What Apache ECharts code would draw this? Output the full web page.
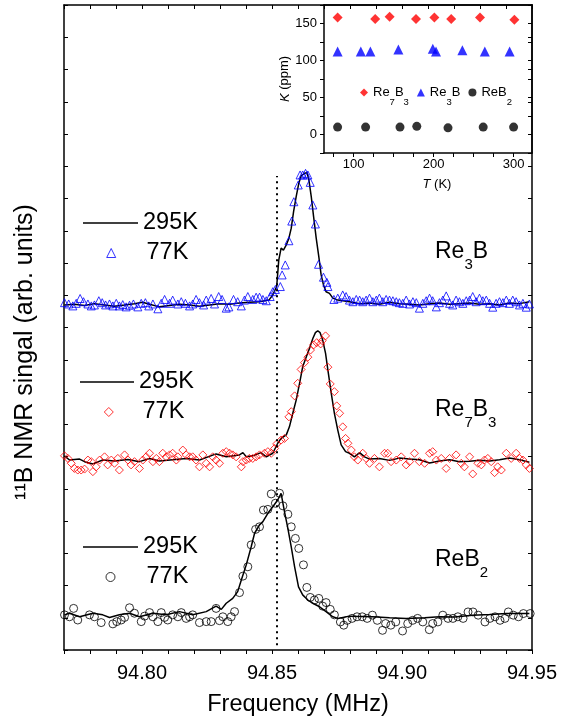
<!DOCTYPE html>
<html>
<head>
<meta charset="utf-8">
<script src="https://cdn.jsdelivr.net/npm/echarts@6.0.0/dist/echarts.min.js"></script>
<style>
  html, body { margin: 0; padding: 0; background: #fff; }
  #main { width: 567px; height: 724px; }
</style>
</head>
<body>
<div id="main"></div>
<script>
// NMR spectra, values in axis units (signal offset per compound), frequency in MHz
var re3b77K = [
  [94.7702,10.77],[94.7718,10.73],[94.7734,10.67],[94.7747,10.75],[94.7762,10.90],[94.7775,10.80],[94.7792,10.73],[94.7805,10.67],
  [94.7817,10.70],[94.7834,10.83],[94.7847,10.77],[94.7860,10.70],[94.7875,10.73],[94.7888,10.67],[94.7901,10.75],[94.7913,10.67],
  [94.7926,10.71],[94.7939,10.64],[94.7952,10.69],[94.7967,10.73],[94.7984,10.64],[94.7997,10.75],[94.8013,10.77],[94.8026,10.67],
  [94.8042,10.73],[94.8061,10.58],[94.8074,10.75],[94.8087,10.87],[94.8106,10.75],[94.8118,10.85],[94.8138,10.73],[94.8151,10.80],
  [94.8167,10.75],[94.8183,10.67],[94.8195,10.73],[94.8208,10.87],[94.8221,10.77],[94.8237,10.70],[94.8247,10.85],[94.8266,10.90],
  [94.8279,10.73],[94.8295,10.96],[94.8308,10.87],[94.8324,10.60],[94.8334,10.64],[94.8352,10.87],[94.8368,10.80],[94.8382,10.67],
  [94.8394,10.85],[94.8407,10.96],[94.8426,10.87],[94.8439,10.94],[94.8452,10.94],[94.8465,10.87],[94.8478,10.83],[94.8493,10.96],
  [94.8503,11.11],[94.8513,11.18],[94.8532,11.27],[94.8539,11.63],[94.8551,11.94],[94.8565,12.69],[94.8576,13.30],[94.8584,13.90],
  [94.8601,14.42],[94.8608,14.73],[94.8618,14.73],[94.8629,14.78],[94.8638,14.73],[94.8647,14.50],[94.8657,13.80],[94.8667,13.21],
  [94.8679,11.96],[94.8698,11.56],[94.8711,11.40],[94.8715,11.27],[94.8738,10.87],
  [94.8753,10.91],[94.8772,11.01],[94.8785,10.96],[94.8798,10.85],[94.8811,10.80],[94.8824,10.87],[94.8837,10.85],[94.8849,10.80],
  [94.8862,10.85],[94.8875,10.91],[94.8888,10.80],[94.8901,10.85],[94.8913,10.91],[94.8926,10.80],[94.8939,10.87],[94.8952,10.85],
  [94.8965,10.83],[94.8978,10.80],[94.8990,10.77],[94.9003,10.75],[94.9016,10.85],[94.9029,10.73],[94.9042,10.80],[94.9055,10.77],
  [94.9067,10.60],[94.9080,10.75],[94.9093,10.83],[94.9106,10.91],[94.9118,10.83],[94.9132,10.64],[94.9144,10.77],[94.9157,10.85],
  [94.9170,10.98],[94.9183,10.75],[94.9195,10.70],[94.9208,10.85],[94.9221,10.80],[94.9234,10.75],[94.9247,10.83],[94.9260,10.85],
  [94.9272,10.96],[94.9285,10.80],[94.9298,10.91],[94.9311,10.83],[94.9324,10.85],[94.9337,10.75],[94.9349,10.63],[94.9362,10.75],
  [94.9375,10.80],[94.9388,10.77],[94.9401,10.85],[94.9413,10.75],[94.9426,10.85],[94.9439,10.80],[94.9452,10.70],[94.9465,10.75],
  [94.9478,10.63],[94.9490,10.73]
];
var re3b295K = [
  [94.7702,10.70],[94.7740,10.72],[94.7779,10.68],[94.7817,10.74],[94.7856,10.70],[94.7894,10.66],[94.7933,10.70],[94.7971,10.74],
  [94.8002,10.78],[94.8029,10.72],[94.8067,10.64],[94.8106,10.68],[94.8144,10.72],[94.8183,10.70],[94.8221,10.66],[94.8260,10.70],
  [94.8298,10.74],[94.8337,10.72],[94.8375,10.76],[94.8413,10.78],[94.8452,10.80],[94.8488,10.85],[94.8503,11.01],[94.8518,11.27],
  [94.8526,12.09],[94.8535,12.46],[94.8544,12.40],[94.8555,12.56],[94.8565,12.77],[94.8574,13.08],[94.8583,13.59],[94.8593,14.06],
  [94.8603,14.47],[94.8612,14.70],[94.8625,14.78],[94.8635,14.80],[94.8642,14.57],[94.8651,14.06],[94.8660,13.44],[94.8670,12.77],
  [94.8680,12.20],[94.8689,11.63],[94.8698,11.32],[94.8708,11.11],[94.8721,11.06],[94.8734,10.91],[94.8753,10.85],[94.8798,10.80],
  [94.8837,10.74],[94.8875,10.76],[94.8913,10.72],[94.8952,10.78],[94.8990,10.74],[94.9029,10.72],[94.9067,10.70],[94.9106,10.74],
  [94.9144,10.76],[94.9183,10.72],[94.9221,10.74],[94.9260,10.76],[94.9298,10.72],[94.9337,10.74],[94.9375,10.70],[94.9413,10.76],
  [94.9452,10.74],[94.9490,10.80]
];
var re7b3_77K = [
  [94.7702,6.02],[94.7715,5.94],[94.7728,5.79],[94.7740,5.63],[94.7753,5.58],[94.7766,5.58],[94.7779,5.61],[94.7792,5.89],
  [94.7805,5.84],[94.7811,5.53],[94.7824,5.68],[94.7837,5.89],[94.7856,5.99],[94.7868,5.74],[94.7882,5.89],[94.7894,5.79],
  [94.7907,5.94],[94.7913,5.58],[94.7933,6.05],[94.7946,5.89],[94.7958,5.74],[94.7971,5.84],[94.7990,5.63],[94.8003,5.89],
  [94.8016,5.99],[94.8029,6.10],[94.8042,5.84],[94.8055,5.94],[94.8067,5.84],[94.8080,6.10],[94.8093,5.99],[94.8106,6.05],
  [94.8118,6.10],[94.8132,5.89],[94.8138,5.99],[94.8157,6.20],[94.8170,6.05],[94.8183,5.99],[94.8195,5.99],[94.8208,5.89],
  [94.8221,5.68],[94.8234,6.05],[94.8247,5.79],[94.8260,5.68],[94.8272,5.99],[94.8285,5.89],[94.8298,5.79],[94.8311,6.10],
  [94.8324,6.15],[94.8337,6.10],[94.8349,6.05],[94.8362,5.99],[94.8382,5.68],[94.8388,5.84],[94.8401,5.89],[94.8413,5.94],
  [94.8426,5.94],[94.8439,5.99],[94.8452,6.05],[94.8471,6.10],[94.8484,6.15],[94.8497,6.10],[94.8510,6.25],[94.8518,6.39],
  [94.8535,6.51],[94.8548,6.56],[94.8565,7.23],[94.8574,7.39],[94.8587,7.88],[94.8599,8.27],[94.8612,8.70],[94.8625,8.91],
  [94.8638,9.08],[94.8648,9.30],[94.8660,9.46],[94.8672,9.53],[94.8687,9.49],[94.8693,9.59],[94.8706,9.74],[94.8715,8.77],
  [94.8724,8.25],[94.8740,8.01],[94.8749,7.57],[94.8760,7.34],[94.8772,6.92],[94.8783,6.56],[94.8792,6.41],[94.8805,6.20],
  [94.8817,5.99],[94.8830,5.89],[94.8849,6.10],[94.8862,5.94],[94.8875,5.79],[94.8894,5.94],[94.8913,5.68],[94.8933,6.10],
  [94.8945,6.10],[94.8958,5.84],[94.8978,5.89],[94.8997,5.99],[94.9016,5.74],[94.9029,5.84],[94.9048,6.10],[94.9067,5.84],
  [94.9087,5.79],[94.9106,6.10],[94.9118,6.15],[94.9132,5.89],[94.9151,5.94],[94.9170,5.63],[94.9183,5.94],[94.9208,6.05],
  [94.9228,5.79],[94.9240,5.68],[94.9260,5.99],[94.9272,5.46],[94.9292,5.79],[94.9305,5.74],[94.9317,5.89],[94.9330,5.94],
  [94.9343,5.84],[94.9356,5.50],[94.9368,5.68],[94.9382,5.58],[94.9401,6.10],[94.9420,5.94],[94.9439,6.10],[94.9452,5.94],
  [94.9465,5.89],[94.9478,5.74],[94.9490,5.63]
];
var re7b3_295K = [
  [94.7702,6.02],[94.7721,5.89],[94.7760,5.92],[94.7779,5.84],[94.7811,5.77],[94.7849,5.89],[94.7894,5.86],[94.7946,5.91],
  [94.7990,5.84],[94.8029,5.94],[94.8067,5.86],[94.8118,5.90],[94.8170,5.94],[94.8221,5.89],[94.8285,6.08],[94.8324,5.99],
  [94.8375,6.05],[94.8388,6.12],[94.8401,5.99],[94.8426,6.02],[94.8458,6.12],[94.8478,5.99],[94.8503,6.10],[94.8522,6.41],
  [94.8535,6.56],[94.8555,6.67],[94.8567,6.92],[94.8580,7.34],[94.8593,7.75],[94.8606,8.27],[94.8618,8.78],[94.8632,9.09],
  [94.8644,9.35],[94.8657,9.66],[94.8667,9.84],[94.8676,9.90],[94.8685,9.84],[94.8695,9.61],[94.8706,9.20],[94.8715,8.68],
  [94.8728,7.96],[94.8740,7.34],[94.8753,6.82],[94.8766,6.36],[94.8783,6.15],[94.8798,6.10],[94.8817,5.99],[94.8837,6.12],
  [94.8856,5.99],[94.8875,5.92],[94.8913,5.94],[94.8952,5.88],[94.8990,5.95],[94.9029,5.92],[94.9067,5.90],[94.9106,5.80],
  [94.9144,5.86],[94.9183,5.90],[94.9221,5.84],[94.9260,5.85],[94.9298,5.88],[94.9337,5.86],[94.9375,5.90],[94.9413,5.95],
  [94.9452,5.90],[94.9490,5.82]
];
var reb2_77K = [
  [94.7702,1.09],[94.7721,1.03],[94.7737,1.29],[94.7753,0.93],[94.7798,1.09],[94.7817,1.03],[94.7843,0.85],[94.7888,0.81],
  [94.7903,0.88],[94.7920,0.93],[94.7933,1.01],[94.7952,1.31],[94.7971,1.14],[94.7997,0.88],[94.8010,1.05],[94.8029,1.16],
  [94.8042,1.03],[94.8061,0.88],[94.8074,1.16],[94.8087,1.01],[94.8099,0.93],[94.8118,1.09],[94.8138,1.03],[94.8151,1.16],
  [94.8170,0.98],[94.8183,1.03],[94.8195,1.09],[94.8221,0.85],[94.8247,0.88],[94.8266,0.88],[94.8285,1.29],[94.8298,0.91],
  [94.8311,1.03],[94.8330,0.88],[94.8343,1.03],[94.8356,1.19],[94.8375,1.78],[94.8388,2.29],[94.8407,2.58],[94.8420,3.26],
  [94.8437,3.74],[94.8452,3.82],[94.8467,4.34],[94.8484,4.36],[94.8497,4.84],[94.8513,4.55],[94.8529,4.86],[94.8542,4.47],
  [94.8561,4.21],[94.8574,3.82],[94.8590,3.46],[94.8603,3.15],[94.8621,2.64],[94.8634,1.94],[94.8647,1.63],[94.8663,1.55],
  [94.8680,1.60],[94.8695,1.36],[94.8708,1.47],[94.8724,1.26],[94.8740,1.09],[94.8763,0.87],[94.8776,0.77],[94.8789,0.92],
  [94.8808,0.98],[94.8827,1.03],[94.8847,1.03],[94.8866,0.98],[94.8886,1.08],[94.8905,0.92],[94.8925,0.61],[94.8937,0.82],
  [94.8957,0.77],[94.8976,0.87],[94.9002,0.59],[94.9022,0.82],[94.9041,0.92],[94.9060,0.98],[94.9080,0.87],[94.9105,0.63],
  [94.9118,0.82],[94.9138,0.87],[94.9157,1.08],[94.9177,0.98],[94.9196,0.98],[94.9215,1.03],[94.9235,0.98],[94.9254,1.18],
  [94.9273,1.18],[94.9293,1.08],[94.9319,0.87],[94.9338,0.98],[94.9358,1.03],[94.9377,0.92],[94.9396,0.98],[94.9409,1.18],
  [94.9428,1.08],[94.9448,1.03],[94.9467,1.13],[94.9493,1.13]
];
var reb2_295K = [
  [94.7702,1.09],[94.7721,1.14],[94.7760,1.03],[94.7811,1.14],[94.7849,1.09],[94.7875,1.01],[94.7913,1.09],[94.7952,1.14],
  [94.7990,1.03],[94.8042,1.14],[94.8093,1.09],[94.8144,1.19],[94.8195,1.09],[94.8247,1.19],[94.8285,1.36],[94.8305,1.26],
  [94.8324,1.45],[94.8349,1.60],[94.8368,1.81],[94.8382,2.17],[94.8401,2.64],[94.8420,3.20],[94.8433,3.62],[94.8452,3.88],
  [94.8465,3.98],[94.8484,4.24],[94.8503,4.44],[94.8522,4.65],[94.8535,4.86],[94.8548,4.29],[94.8561,3.77],[94.8574,3.20],
  [94.8587,2.58],[94.8602,1.96],[94.8618,1.71],[94.8638,1.55],[94.8657,1.45],[94.8683,1.34],[94.8708,1.19],[94.8734,1.03],
  [94.8753,0.98],[94.8798,1.05],[94.8887,1.03],[94.8952,1.00],[94.9016,0.98],[94.9087,1.00],[94.9144,1.03],[94.9202,1.02],
  [94.9271,1.08],[94.9337,1.10],[94.9401,1.13],[94.9490,1.13]
];
var refFreq = 94.852;          // dotted reference line
var refSpan = [0.15, 14.7];

// inset: K (ppm) vs T (K)
var insetRe7B3 = [[80,158],[127,156],[145,159],[178,156],[201,158],[222,156],[258,158],[301,155]];
var insetRe3B  = [[80,112],[109,112],[121,112],[156,115],[199,116],[203,112],[236,114],[264,112],[295,112]];
var insetReB2  = [[80,10],[115,10],[158,10],[179,11],[218,9],[262,10],[300,10]];
var insetTTicks = [75, 100, 125, 150, 175, 200, 225, 250, 275, 300];
var insetTLabels = [100, 200, 300];

var FONT = '"Liberation Sans", Arial, Helvetica, sans-serif';
var chart = echarts.init(document.getElementById('main'));

var axisLineStyle = { color: '#000', width: 1.5 };
var tickStyle = { color: '#000', width: 1 };

function isMajor(v) {
  return Math.abs(v * 20 - Math.round(v * 20)) < 1e-6;
}

function specLine(name, data) {
  return {
    name: name, type: 'line', data: data, xAxisIndex: 0, yAxisIndex: 0,
    symbol: 'none', showSymbol: false,
    lineStyle: { color: '#000', width: 1.5 }, itemStyle: { color: '#000' },
    z: 2, silent: true
  };
}
function specMarks(name, data, symbol, color) {
  return {
    name: name, type: 'scatter', data: data, xAxisIndex: 0, yAxisIndex: 0,
    symbol: symbol, symbolSize: 8,
    itemStyle: { color: 'rgba(255,255,255,0)', borderColor: color, borderWidth: 1 },
    z: 3, silent: true
  };
}
function insetMarks(name, data, symbol, size, color) {
  return {
    name: name, type: 'scatter', data: data, xAxisIndex: 2, yAxisIndex: 2,
    symbol: symbol, symbolSize: size, itemStyle: { color: color }, silent: true
  };
}
var legendText = { fontSize: 23.5, lineHeight: 30, color: '#000', fontFamily: FONT };
function lineLegend(name, left, centerY, width) {
  return {
    data: [{ name: name, icon: 'rect' }], left: left, top: centerY - 15, padding: 0,
    itemWidth: width, itemHeight: 1.5, selectedMode: false,
    textStyle: legendText,
    formatter: function (n) { return n.split('|')[1]; }
  };
}
function markLegend(name, centerX, centerY, textX) {
  var left = centerX - 4.5;
  return {
    data: [name], left: left, top: centerY - 15, padding: 0,
    itemWidth: 9, itemHeight: 9, selectedMode: false,
    itemStyle: { borderWidth: 1 },
    textStyle: Object.assign({ padding: [0, 0, 0, textX - (left + 14)] }, legendText),
    formatter: function (n) { return n.split('|')[1]; }
  };
}

var subRich = { s: { fontSize: 15, fontFamily: FONT, fill: '#000', padding: [25, 0, 0, 0] } };
function compoundLabel(text, y) {
  return {
    type: 'text', x: 435, y: y, silent: true,
    style: { text: text, fontSize: 23, fontFamily: FONT, fill: '#000', verticalAlign: 'middle', rich: subRich }
  };
}

var insetNames = { 'Re7B3': 'Re{s|7}B{s|3}', 'Re3B': 'Re{s|3}B', 'ReB2': 'ReB{s|2}' };

var option = {
  animation: false,
  backgroundColor: '#fff',
  grid: [
    { left: 64, top: 5, width: 468, height: 645 },
    { left: 324, top: 5, width: 208, height: 148 }
  ],
  xAxis: [
    {
      gridIndex: 0, type: 'value', min: 94.77, max: 94.95, interval: 0.01, position: 'bottom',
      axisLine: { onZero: false, lineStyle: axisLineStyle },
      axisTick: { inside: false, length: 4, lineStyle: tickStyle },
      axisLabel: {
        margin: 13, fontSize: 20, color: '#000', fontFamily: FONT,
        formatter: function (v) { return isMajor(v) ? v.toFixed(2) : ''; }
      },
      splitLine: { show: false },
      name: 'Frequency (MHz)', nameLocation: 'middle', nameGap: 43,
      nameTextStyle: { fontSize: 23.5, color: '#000', fontFamily: FONT }
    },
    {
      gridIndex: 0, type: 'value', min: 94.77, max: 94.95, interval: 0.01, position: 'top',
      axisLine: { onZero: false, lineStyle: axisLineStyle },
      axisTick: { inside: true, length: 4, lineStyle: tickStyle },
      axisLabel: { show: false }, splitLine: { show: false }
    },
    {
      gridIndex: 1, type: 'value', min: 63, max: 323, position: 'bottom',
      axisLine: { onZero: false, lineStyle: axisLineStyle },
      axisTick: { inside: false, length: 4, lineStyle: tickStyle, customValues: insetTTicks },
      axisLabel: { margin: 5, fontSize: 13, color: '#000', fontFamily: FONT, customValues: insetTLabels },
      splitLine: { show: false },
      name: '{i|T} (K)', nameLocation: 'middle', nameGap: 25,
      nameTextStyle: {
        fontSize: 13, color: '#000', fontFamily: FONT, padding: [0, 0, 0, 18],
        rich: { i: { fontSize: 13, fontStyle: 'italic', fontFamily: FONT, color: '#000' } }
      }
    },
    {
      gridIndex: 1, type: 'value', min: 63, max: 323, position: 'top',
      axisLine: { onZero: false, lineStyle: axisLineStyle },
      axisTick: { show: false }, axisLabel: { show: false }, splitLine: { show: false }
    }
  ],
  yAxis: [
    {
      gridIndex: 0, type: 'value', min: 0, max: 20, interval: 1, position: 'left',
      axisLine: { show: true, onZero: false, lineStyle: axisLineStyle },
      axisTick: { show: true, inside: true, length: 4, lineStyle: tickStyle },
      axisLabel: { show: false }, splitLine: { show: false },
      name: '\u00b9\u00b9B NMR singal (arb. units)', nameLocation: 'middle', nameGap: 26,
      nameTextStyle: { fontSize: 25, color: '#000', fontFamily: FONT, padding: [0, 49, 0, 0] }
    },
    {
      gridIndex: 0, type: 'value', min: 0, max: 20, interval: 1, position: 'right',
      axisLine: { show: true, onZero: false, lineStyle: axisLineStyle },
      axisTick: { show: true, inside: true, length: 4, lineStyle: tickStyle },
      axisLabel: { show: false }, splitLine: { show: false }
    },
    {
      gridIndex: 1, type: 'value', min: -25, max: 175, interval: 25, position: 'left',
      axisLine: { show: true, onZero: false, lineStyle: axisLineStyle },
      axisTick: { show: true, inside: false, length: 4, lineStyle: tickStyle },
      axisLabel: {
        margin: 7, fontSize: 13, color: '#000', fontFamily: FONT,
        formatter: function (v) { return (v >= 0 && v % 50 === 0) ? String(v) : ''; }
      },
      splitLine: { show: false },
      name: '{i|K} (ppm)', nameLocation: 'middle', nameGap: 24,
      nameTextStyle: {
        fontSize: 13, color: '#000', fontFamily: FONT,
        rich: { i: { fontSize: 13, fontStyle: 'italic', fontFamily: FONT, color: '#000' } }
      }
    },
    {
      gridIndex: 1, type: 'value', min: -25, max: 175, interval: 25, position: 'right',
      axisLine: { show: true, onZero: false, lineStyle: axisLineStyle },
      axisTick: { show: true, inside: true, length: 4, lineStyle: tickStyle },
      axisLabel: { show: false }, splitLine: { show: false }
    }
  ],
  legend: [
    lineLegend('Re3B|295K', 83, 223, 55),
    markLegend('Re3B|77K', 110.7, 253, 146),
    lineLegend('Re7B3|295K', 80, 382, 54),
    markLegend('Re7B3|77K', 108.3, 412, 142),
    lineLegend('ReB2|295K', 83, 547, 55),
    markLegend('ReB2|77K', 110, 577, 146),
    {
      data: ['Re7B3', 'Re3B', 'ReB2'], left: 360, top: 86, orient: 'horizontal', padding: 0,
      itemWidth: 8, itemHeight: 8, itemGap: 8, selectedMode: false,
      textStyle: {
        fontSize: 13, color: '#000', fontFamily: FONT,
        rich: { s: { fontSize: 9.5, fontFamily: FONT, color: '#000', padding: [19, 0, 0, 0] } }
      },
      formatter: function (n) { return insetNames[n]; }
    }
  ],
  graphic: [
    compoundLabel('Re{s|3}B', 252),
    compoundLabel('Re{s|7}B{s|3}', 410),
    compoundLabel('ReB{s|2}', 560)
  ],
  series: [
    Object.assign(specLine('ReB2|295K', reb2_295K), {
      markLine: {
        silent: true, symbol: ['none', 'none'], label: { show: false },
        lineStyle: { color: '#000', type: [2, 4], width: 2 },
        data: [[{ coord: [refFreq, refSpan[0]] }, { coord: [refFreq, refSpan[1]] }]]
      }
    }),
    specMarks('ReB2|77K', reb2_77K, 'circle', '#000'),
    specLine('Re7B3|295K', re7b3_295K),
    specMarks('Re7B3|77K', re7b3_77K, 'diamond', '#ff0000'),
    specLine('Re3B|295K', re3b295K),
    specMarks('Re3B|77K', re3b77K, 'triangle', '#0000ff'),
    insetMarks('Re7B3', insetRe7B3, 'diamond', 10, '#ff0000'),
    insetMarks('Re3B', insetRe3B, 'triangle', 10, '#0000ff'),
    insetMarks('ReB2', insetReB2, 'circle', 9, '#000')
  ]
};

chart.setOption(option);
</script>
</body>
</html>
